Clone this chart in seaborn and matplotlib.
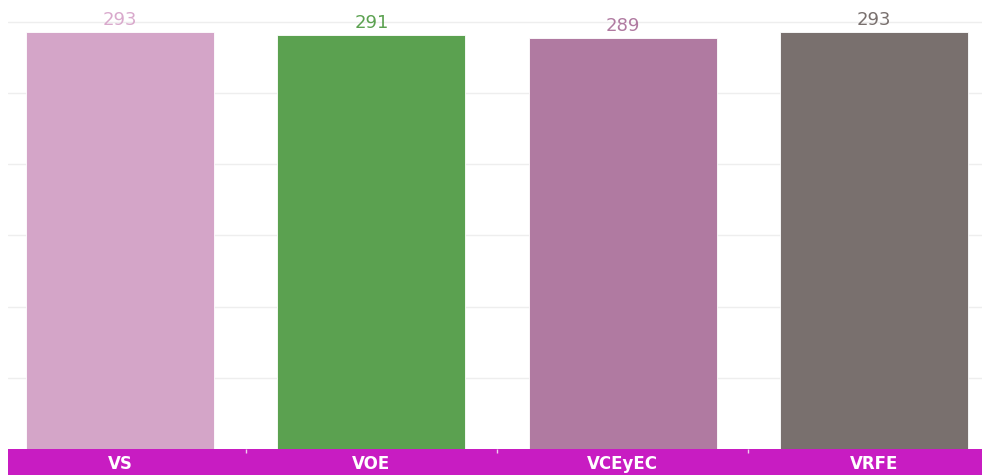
import matplotlib
matplotlib.use("Agg")
import matplotlib.pyplot as plt
import seaborn as sns
import pandas as pd

# chart data
categories = ["VS", "VOE", "VCEyEC", "VRFE"]
values = [293, 291, 289, 293]
colors = ["#d4a5c8", "#5ba150", "#b07aa1", "#79706e"]
label_colors = ["#d9a9cc", "#5ba150", "#b07aa1", "#79706e"]
band_color = "#c81cc2"

df = pd.DataFrame({"cat": categories, "val": values})

sns.set_style("white")
plt.rcParams["font.family"] = ["DejaVu Sans"]

W, H = 982, 476
fig = plt.figure(figsize=(W / 100, H / 100), dpi=100)

left = 8 / W
width = 974 / W
xlim = (-0.4457, 3.430)
ax = fig.add_axes([left, 27 / H, width, 449 / H])

sns.barplot(data=df, x="cat", y="val", hue="cat", palette=colors, legend=False,
            width=0.748, saturation=1, ax=ax, edgecolor="#ffffff", linewidth=0.6)

ax.set_xlim(*xlim)
ax.set_ylim(0, 300 * 449 / 427)
ax.set_yticks([50, 100, 150, 200, 250, 300])
ax.yaxis.grid(True, color="#eeeeee", linewidth=1)
ax.set_axisbelow(True)
ax.tick_params(left=False, bottom=False, labelleft=False, labelbottom=False)
ax.set_xlabel("")
ax.set_ylabel("")
for s in ax.spines.values():
    s.set_visible(False)

for i, v in enumerate(values):
    ax.annotate(str(v), (i, v), xytext=(0, 2), textcoords="offset points",
                ha="center", va="bottom", fontsize=13, color=label_colors[i])

# category band
band = fig.add_axes([left, 1 / H, width, 26 / H])
band.set_facecolor(band_color)
band.set_xlim(*xlim)
band.set_ylim(0, 1)
band.set_yticks([])
band.set_xticks([0.5, 1.5, 2.5])
band.tick_params(axis="x", top=True, bottom=False, labelbottom=False,
                 direction="in", color="#f0d0ee", length=3, width=1)
for s in band.spines.values():
    s.set_visible(False)
for i, c in enumerate(categories):
    band.text(i, 0.42, c, ha="center", va="center", color="white",
              fontsize=12, fontweight="bold")

fig.savefig("out.png", dpi=100)
